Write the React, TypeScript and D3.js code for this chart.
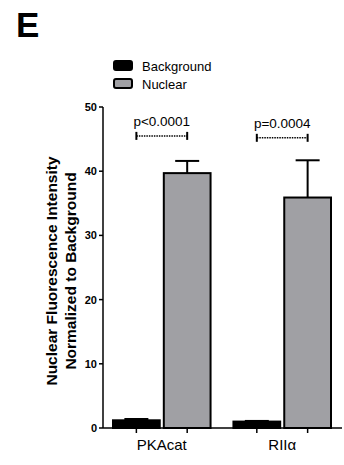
import * as d3 from "d3";

const categories = ["PKAcat", "RIIα"];
const seriesNames = ["Background", "Nuclear"];
const backgroundMean = [1.2, 1.0];
const backgroundErr = [1.4, 1.1];
const nuclearMean = [39.7, 35.9];
const nuclearErr = [41.6, 41.7];
const pLabels = ["p<0.0001", "p=0.0004"];
const pBracketY = [45.5, 45.2];
const yTicks = [0, 10, 20, 30, 40, 50];

const W = 344;
const H = 465;
const left = 103;
const right = 342;
const top = 107;
const bottom = 428;
const colors = ["#000000", "#a0a0a4"];

export default function App() {
  const y = d3.scaleLinear().domain([0, 50]).range([bottom, top]);
  const x0 = d3.scaleBand<string>().domain(categories).range([113, 331]).paddingInner(0.19);
  const x1 = d3.scaleBand<string>().domain(seriesNames).range([0, x0.bandwidth()]).paddingInner(0.08);
  const means = [backgroundMean, nuclearMean];
  const errs = [backgroundErr, nuclearErr];
  const font = "'Liberation Sans', Arial, sans-serif";

  return (
    <svg width={W} height={H} style={{ position: "absolute", left: 0, top: 0 }} fontFamily={font}>
      <rect width={W} height={H} fill="#fff" />
      <text x={16} y={37} fontSize={35} fontWeight="bold">E</text>

      {/* legend */}
      {seriesNames.map((s, i) => (
        <g key={s} transform={`translate(114, ${61 + i * 18})`}>
          <rect width={18} height={9} rx={2} fill={colors[i]} stroke="#000" strokeWidth={2} />
          <text x={28} y={9.5} fontSize={13}>{s}</text>
        </g>
      ))}

      {/* y axis */}
      <line x1={left} x2={left} y1={top} y2={bottom} stroke="#000" strokeWidth={1.5} />
      {yTicks.map((t) => (
        <g key={t}>
          <line x1={left - 4} x2={left} y1={y(t)} y2={y(t)} stroke="#000" strokeWidth={1.5} />
          <text x={left - 6} y={y(t) + 4} fontSize={11} fontWeight="bold" textAnchor="end">{t}</text>
        </g>
      ))}
      <text transform={`translate(57, 271) rotate(-90)`} fontSize={15.5} fontWeight="bold" textAnchor="middle">
        Nuclear Fluorescence Intensity
      </text>
      <text transform={`translate(76, 271) rotate(-90)`} fontSize={15.5} fontWeight="bold" textAnchor="middle">
        Normalized to Background
      </text>

      {/* bars */}
      {categories.map((c, ci) =>
        seriesNames.map((s, si) => {
          const bx = (x0(c) ?? 0) + (x1(s) ?? 0);
          const bw = x1.bandwidth();
          const cx = bx + bw / 2;
          return (
            <g key={c + s}>
              <line x1={cx} x2={cx} y1={y(means[si][ci])} y2={y(errs[si][ci])} stroke="#000" strokeWidth={2} />
              <line x1={cx - 12} x2={cx + 12} y1={y(errs[si][ci])} y2={y(errs[si][ci])} stroke="#000" strokeWidth={2} />
              <rect x={bx} y={y(means[si][ci])} width={bw} height={bottom - y(means[si][ci])}
                fill={colors[si]} stroke="#000" strokeWidth={2} />
            </g>
          );
        })
      )}

      {/* x axis */}
      <line x1={left} x2={right} y1={bottom} y2={bottom} stroke="#000" strokeWidth={1.5} />
      {categories.map((c) =>
        seriesNames.map((s) => {
          const cx = (x0(c) ?? 0) + (x1(s) ?? 0) + x1.bandwidth() / 2;
          return <line key={c + s} x1={cx} x2={cx} y1={bottom} y2={bottom + 5} stroke="#000" strokeWidth={1.5} />;
        })
      )}
      {categories.map((c) => (
        <text key={c} x={(x0(c) ?? 0) + x0.bandwidth() / 2} y={450} fontSize={15} textAnchor="middle">{c}</text>
      ))}

      {/* significance brackets */}
      {categories.map((c, ci) => {
        const a = (x0(c) ?? 0) + (x1(seriesNames[0]) ?? 0) + x1.bandwidth() / 2;
        const b = (x0(c) ?? 0) + (x1(seriesNames[1]) ?? 0) + x1.bandwidth() / 2;
        const yy = y(pBracketY[ci]);
        return (
          <g key={c}>
            <line x1={a} x2={b} y1={yy} y2={yy} stroke="#000" strokeWidth={1.5} strokeDasharray="1.5,1" />
            <line x1={a} x2={a} y1={yy - 4} y2={yy + 4} stroke="#000" strokeWidth={2} />
            <line x1={b} x2={b} y1={yy - 4} y2={yy + 4} stroke="#000" strokeWidth={2} />
            <text x={(a + b) / 2} y={yy - 10} fontSize={13.5} textAnchor="middle">{pLabels[ci]}</text>
          </g>
        );
      })}
    </svg>
  );
}
